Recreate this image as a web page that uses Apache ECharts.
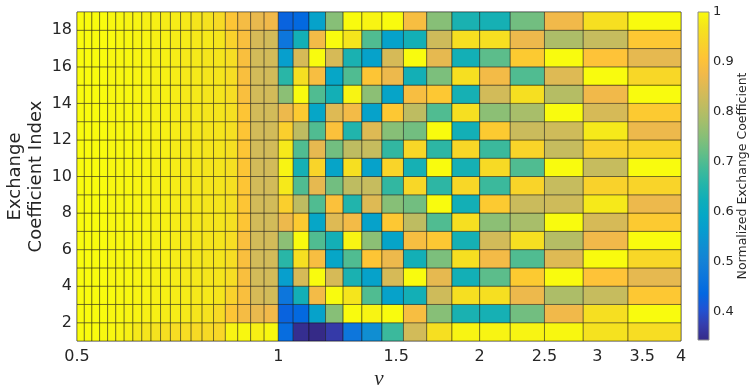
<!DOCTYPE html>
<html>
<head>
<meta charset="utf-8">
<script src="https://cdn.jsdelivr.net/npm/echarts@6/dist/echarts.min.js"></script>
<style>
  html, body { margin: 0; padding: 0; background: #fff; }
  #chart { width: 751px; height: 387px; }
</style>
</head>
<body>
<div id="chart"></div>
<script>
// column edges along nu (log-spaced axis), 35 columns
const nuEdges = [0.5, 0.5128, 0.5263, 0.5405, 0.5556, 0.5714, 0.5882, 0.6061, 0.625, 0.6452,
  0.6667, 0.6897, 0.7143, 0.7407, 0.7692, 0.8, 0.8333, 0.8696, 0.9091, 0.9524,
  1, 1.0526, 1.1111, 1.1765, 1.25, 1.3333, 1.4286, 1.5385, 1.6667, 1.8182,
  2, 2.2222, 2.5, 2.8571, 3.3333, 4];
// row edges (index), 18 rows
const rowEdges = [1, 2, 3, 4, 5, 6, 7, 8, 9, 10, 11, 12, 13, 14, 15, 16, 17, 18, 19];

const xTicks = [0.5, 1, 1.5, 2, 2.5, 3, 3.5, 4];
const yTicks = [2, 4, 6, 8, 10, 12, 14, 16, 18];
const cbarTicks = [0.4, 0.5, 0.6, 0.7, 0.8, 0.9, 1];
const cMin = 0.343;
const cMax = 1;

// normalized exchange coefficient, one array per row, bottom (1) to top (18)
const coefRows = [
  /* 1 */ [1, 1, 1, 0.995, 0.995, 0.99, 0.985, 0.975, 0.97, 0.965, 0.96, 0.955, 0.955, 0.95, 0.95, 0.945, 0.99, 0.995, 0.985, 0.995,
           0.45, 0.35, 0.343, 0.37, 0.47, 0.53, 0.68, 0.835, 0.96, 0.99, 0.99, 0.99, 0.995, 0.965, 0.955],
  /* 2 */ [1, 1, 1, 1, 0.995, 0.995, 0.99, 0.99, 0.985, 0.985, 0.98, 0.98, 0.975, 0.97, 0.965, 0.95, 0.91, 0.885, 0.865, 0.875,
           0.43, 0.44, 0.58, 0.75, 1, 0.99, 1, 0.89, 0.75, 0.64, 0.635, 0.73, 0.875, 0.96, 1],
  /* 3 */ [1, 1, 1, 1, 1, 0.995, 0.995, 0.99, 0.99, 0.985, 0.985, 0.98, 0.98, 0.975, 0.975, 0.97, 0.935, 0.895, 0.84, 0.835,
           0.47, 0.63, 0.88, 1, 0.97, 0.7, 0.58, 0.63, 0.83, 0.96, 0.96, 0.87, 0.79, 0.82, 0.915],
  /* 4 */ [1, 1, 1, 1, 0.995, 0.995, 0.995, 0.99, 0.99, 0.985, 0.985, 0.98, 0.975, 0.975, 0.97, 0.97, 0.955, 0.895, 0.835, 0.835,
           0.57, 0.84, 1, 0.84, 0.64, 0.58, 0.84, 1, 0.86, 0.63, 0.71, 0.92, 1, 0.905, 0.86],
  /* 5 */ [1, 1, 1, 1, 0.995, 0.995, 0.995, 0.99, 0.99, 0.985, 0.985, 0.98, 0.975, 0.975, 0.97, 0.97, 0.955, 0.895, 0.835, 0.835,
           0.66, 0.96, 0.89, 0.59, 0.7, 0.91, 0.87, 0.63, 0.74, 0.96, 0.88, 0.7, 0.85, 1, 0.945],
  /* 6 */ [1, 1, 1, 1, 0.995, 0.995, 0.995, 0.99, 0.99, 0.985, 0.985, 0.98, 0.975, 0.975, 0.97, 0.97, 0.955, 0.895, 0.835, 0.835,
           0.755, 1, 0.7, 0.63, 0.99, 0.755, 0.585, 0.89, 0.915, 0.635, 0.835, 0.96, 0.8, 0.875, 1],
  /* 7 */ [1, 1, 1, 1, 0.995, 0.995, 0.995, 0.99, 0.99, 0.985, 0.985, 0.98, 0.975, 0.975, 0.97, 0.97, 0.96, 0.91, 0.835, 0.835,
           0.87, 0.92, 0.59, 0.85, 0.88, 0.58, 0.915, 0.81, 0.7, 0.96, 0.755, 0.785, 1, 0.84, 0.92],
  /* 8 */ [1, 1, 1, 1, 0.995, 0.995, 0.995, 0.99, 0.99, 0.985, 0.985, 0.98, 0.975, 0.975, 0.97, 0.97, 0.96, 0.91, 0.835, 0.835,
           0.93, 0.81, 0.7, 0.9, 0.65, 0.85, 0.75, 0.73, 1, 0.63, 0.92, 0.825, 0.83, 0.975, 0.87],
  /* 9 */ [1, 1, 1, 1, 0.995, 0.995, 0.995, 0.99, 0.99, 0.985, 0.985, 0.98, 0.975, 0.975, 0.97, 0.97, 0.96, 0.91, 0.835, 0.835,
           0.975, 0.7, 0.86, 0.73, 0.81, 0.82, 0.67, 0.945, 0.665, 0.945, 0.68, 0.94, 0.82, 0.935, 0.94],
  /* 10 */ [1, 1, 1, 1, 0.995, 0.995, 0.995, 0.99, 0.99, 0.985, 0.985, 0.98, 0.975, 0.975, 0.97, 0.97, 0.96, 0.91, 0.835, 0.835,
           0.99, 0.635, 0.94, 0.585, 0.96, 0.58, 0.94, 0.635, 1, 0.635, 0.95, 0.7, 1, 0.82, 1],
  /* 11 */ [1, 1, 1, 1, 0.995, 0.995, 0.995, 0.99, 0.99, 0.985, 0.985, 0.98, 0.975, 0.975, 0.97, 0.97, 0.96, 0.91, 0.835, 0.835,
           0.975, 0.7, 0.86, 0.73, 0.81, 0.82, 0.67, 0.945, 0.665, 0.945, 0.68, 0.94, 0.82, 0.935, 0.94],
  /* 12 */ [1, 1, 1, 1, 0.995, 0.995, 0.995, 0.99, 0.99, 0.985, 0.985, 0.98, 0.975, 0.975, 0.97, 0.97, 0.96, 0.91, 0.835, 0.835,
           0.93, 0.81, 0.7, 0.9, 0.65, 0.85, 0.75, 0.73, 1, 0.63, 0.92, 0.825, 0.83, 0.975, 0.87],
  /* 13 */ [1, 1, 1, 1, 0.995, 0.995, 0.995, 0.99, 0.99, 0.985, 0.985, 0.98, 0.975, 0.975, 0.97, 0.97, 0.96, 0.91, 0.835, 0.835,
           0.87, 0.92, 0.59, 0.85, 0.88, 0.58, 0.915, 0.81, 0.7, 0.96, 0.755, 0.785, 1, 0.84, 0.92],
  /* 14 */ [1, 1, 1, 1, 0.995, 0.995, 0.995, 0.99, 0.99, 0.985, 0.985, 0.98, 0.975, 0.975, 0.97, 0.97, 0.955, 0.895, 0.835, 0.835,
           0.755, 1, 0.7, 0.63, 0.99, 0.755, 0.585, 0.89, 0.915, 0.635, 0.835, 0.96, 0.8, 0.875, 1],
  /* 15 */ [1, 1, 1, 1, 0.995, 0.995, 0.995, 0.99, 0.99, 0.985, 0.985, 0.98, 0.975, 0.975, 0.97, 0.97, 0.955, 0.895, 0.835, 0.835,
           0.66, 0.96, 0.89, 0.59, 0.7, 0.91, 0.87, 0.63, 0.74, 0.96, 0.88, 0.7, 0.85, 1, 0.945],
  /* 16 */ [1, 1, 1, 1, 0.995, 0.995, 0.995, 0.99, 0.99, 0.985, 0.985, 0.98, 0.975, 0.975, 0.97, 0.97, 0.955, 0.895, 0.835, 0.835,
           0.57, 0.84, 1, 0.84, 0.64, 0.58, 0.84, 1, 0.86, 0.63, 0.71, 0.92, 1, 0.905, 0.86],
  /* 17 */ [1, 1, 1, 1, 1, 0.995, 0.995, 0.99, 0.99, 0.985, 0.985, 0.98, 0.98, 0.975, 0.975, 0.97, 0.935, 0.895, 0.84, 0.835,
           0.47, 0.63, 0.88, 1, 0.97, 0.7, 0.58, 0.63, 0.83, 0.96, 0.96, 0.87, 0.79, 0.82, 0.915],
  /* 18 */ [1, 1, 1, 1, 0.995, 0.995, 0.99, 0.99, 0.985, 0.985, 0.98, 0.98, 0.975, 0.97, 0.965, 0.95, 0.91, 0.885, 0.865, 0.875,
           0.43, 0.44, 0.58, 0.75, 1, 0.99, 1, 0.89, 0.75, 0.64, 0.635, 0.73, 0.875, 0.96, 1]
];

// parula, evenly spaced
const parula = ['#352a87', '#353dad', '#2053d4', '#0268e1', '#0d75dc', '#1481d6', '#108ed2', '#079ccf',
  '#06a7c6', '#0faeb9', '#25b5a9', '#42ba98', '#65be86', '#87bf77', '#a5be6b', '#c0bc60',
  '#d9ba56', '#f1b94a', '#fec337', '#f9d32a', '#f5e41d', '#f9fb0e'];

const textColor = '#262626';
const fontFamily = 'DejaVu Sans';

const cells = [];
coefRows.forEach((row, r) => {
  row.forEach((v, c) => {
    cells.push([Math.log2(nuEdges[c]), Math.log2(nuEdges[c + 1]), rowEdges[r], rowEdges[r + 1], v]);
  });
});

const chart = echarts.init(document.getElementById('chart'));

const option = {
  animation: false,
  backgroundColor: '#fff',
  grid: [
    { left: 77, top: 12, width: 604, height: 329, outerBoundsMode: 'none', containLabel: false,
      show: true, borderColor: '#8c8c8c', borderWidth: 1 },
    { left: 698, top: 12, width: 11, height: 328, outerBoundsMode: 'none', containLabel: false }
  ],
  xAxis: [
    {
      type: 'value',
      gridIndex: 0,
      min: Math.log2(xTicks[0]),
      max: Math.log2(xTicks[xTicks.length - 1]),
      name: 'ν',
      nameLocation: 'middle',
      nameGap: 28,
      nameMoveOverlap: false,
      nameTextStyle: { fontFamily: 'Liberation Serif', fontStyle: 'italic', fontSize: 21, color: textColor },
      axisLine: { show: false },
      axisTick: { show: false },
      splitLine: { show: false },
      axisLabel: {
        customValues: xTicks.map(Math.log2),
        formatter: (v) => String(Math.round(Math.pow(2, v) * 100) / 100),
        color: textColor,
        fontFamily: fontFamily,
        fontSize: 16,
        margin: 8
      }
    },
    { type: 'value', gridIndex: 1, min: 0, max: 1, show: false }
  ],
  yAxis: [
    {
      type: 'value',
      gridIndex: 0,
      min: rowEdges[0],
      max: rowEdges[rowEdges.length - 1],
      name: 'Exchange\nCoefficient Index',
      nameLocation: 'middle',
      nameRotate: 90,
      nameGap: 30,
      nameMoveOverlap: false,
      nameTextStyle: { fontFamily: fontFamily, fontSize: 18, lineHeight: 21, color: textColor, align: 'center' },
      axisLine: { show: false },
      axisTick: { show: false },
      splitLine: { show: false },
      axisLabel: {
        customValues: yTicks,
        color: textColor,
        fontFamily: fontFamily,
        fontSize: 16,
        margin: 5
      }
    },
    {
      type: 'value',
      gridIndex: 1,
      position: 'right',
      min: cMin,
      max: cMax,
      name: 'Normalized Exchange Coefficient',
      nameLocation: 'middle',
      nameRotate: 90,
      nameGap: 27,
      nameMoveOverlap: false,
      nameTextStyle: { fontFamily: fontFamily, fontSize: 12.5, color: textColor },
      axisLine: { show: false },
      axisTick: { show: false },
      splitLine: { show: false },
      axisLabel: {
        customValues: cbarTicks,
        formatter: (v) => String(Math.round(v * 10) / 10),
        color: textColor,
        fontFamily: fontFamily,
        fontSize: 13,
        margin: 4
      }
    }
  ],
  visualMap: {
    show: false,
    type: 'continuous',
    seriesIndex: 0,
    dimension: 4,
    min: cMin,
    max: cMax,
    inRange: { color: parula }
  },
  series: [
    {
      type: 'custom',
      xAxisIndex: 0,
      yAxisIndex: 0,
      data: cells,
      encode: { x: [0, 1], y: [2, 3] },
      renderItem: (params, api) => {
        const p0 = api.coord([api.value(0), api.value(3)]);
        const p1 = api.coord([api.value(1), api.value(2)]);
        return {
          type: 'rect',
          shape: { x: p0[0], y: p0[1], width: p1[0] - p0[0], height: p1[1] - p0[1] },
          style: { fill: api.visual('color'), stroke: 'rgba(0,0,0,0.6)', lineWidth: 0.7 }
        };
      }
    },
    {
      type: 'custom',
      xAxisIndex: 1,
      yAxisIndex: 1,
      data: [[0, 1, cMin, cMax]],
      renderItem: (params, api) => {
        const p0 = api.coord([api.value(0), api.value(3)]);
        const p1 = api.coord([api.value(1), api.value(2)]);
        const stops = parula.map((c, i) => ({ offset: i / (parula.length - 1), color: c }));
        return {
          type: 'rect',
          shape: { x: p0[0], y: p0[1], width: p1[0] - p0[0], height: p1[1] - p0[1] },
          style: {
            fill: new echarts.graphic.LinearGradient(0, 1, 0, 0, stops),
            stroke: '#8c8c8c',
            lineWidth: 1
          }
        };
      }
    }
  ]
};

chart.setOption(option);
</script>
</body>
</html>
